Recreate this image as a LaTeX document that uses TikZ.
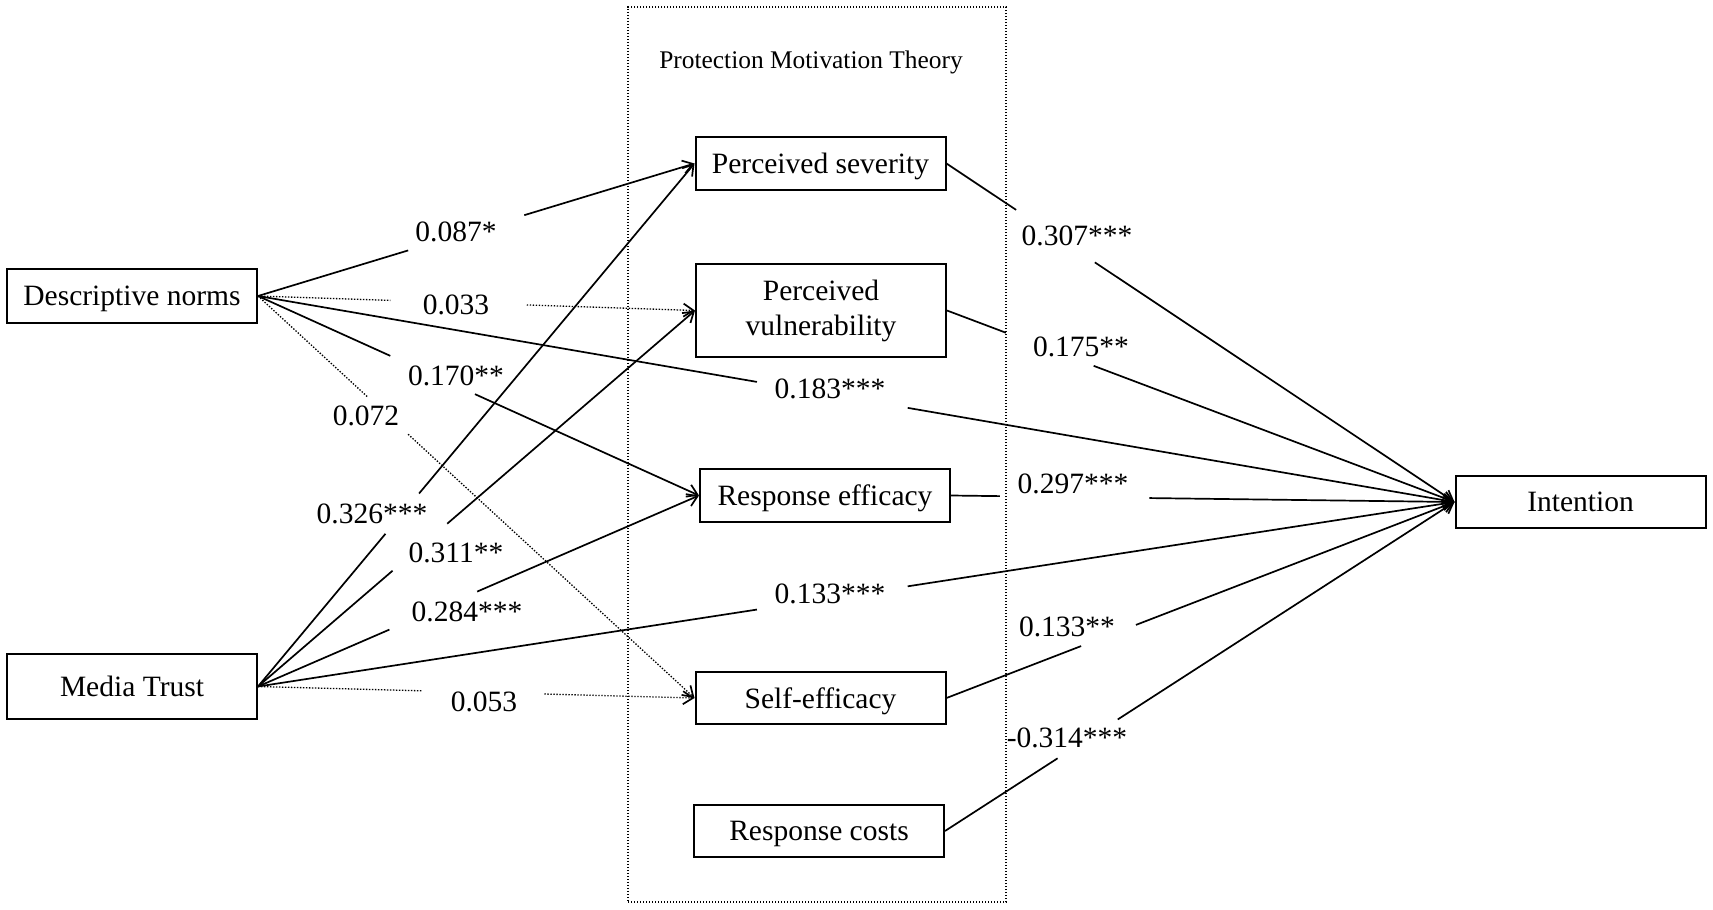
\documentclass[tikz,border=0pt]{standalone}
\usepackage{fontspec}
\setmainfont{Liberation Serif}
\usetikzlibrary{arrows.meta,calc}
\newcommand{\gapline}[5]{%
  \draw[#1] (#2) -- ($(#2)!#4!(#3)$);
  \draw[#1,tipend] ($(#2)!#5!(#3)$) -- (#3);}
\begin{document}
\begin{tikzpicture}[x=0.5pt,y=-0.5pt,
  box/.style={draw,line width=1pt,minimum width=125pt,minimum height=26.5pt,inner sep=0pt,
    font=\fontsize{14.75}{17.5}\selectfont,align=center},
  sline/.style={text depth=0pt},
  lab/.style={inner sep=0pt,font=\fontsize{14.75}{17.5}\selectfont},
  conn/.style={line width=0.85pt},
  dotln/.style={line width=0.65pt,dash pattern=on 0.7pt off 0.8pt},
  tipend/.style={-{Straight Barb[length=5pt,width=6.5pt,line width=0.85pt]}}
]
\useasboundingbox (0,0) rectangle (1713,910);

% boxes
\node[box,sline,minimum height=27pt] (DN) at (132,296) {Descriptive norms};
\node[box,sline,minimum height=32.5pt] (MT) at (132,686.5) {Media Trust};
\node[box,sline] (PS) at (820.5,163.5) {Perceived severity};
\node[box,minimum height=46.5pt] (PV) at (821,310.5) {Perceived\\vulnerability};
\node[box,sline] (RE) at (825,495.5) {Response efficacy};
\node[box,sline,minimum height=26pt] (SE) at (820.5,698) {Self-efficacy};
\node[box,sline,minimum height=26pt] (RC) at (819,831) {Response costs};
\node[box,sline,minimum height=26pt] (IN) at (1580.5,502) {Intention};

% connectors from Descriptive norms
\gapline{conn}{DN.east}{PS.west}{0.344}{0.610}
\gapline{dotln}{DN.east}{PV.west}{0.303}{0.615}
\gapline{conn}{DN.east}{RE.west}{0.300}{0.492}
\gapline{dotln}{DN.east}{SE.west}{0.251}{0.344}
\gapline{conn}{DN.east}{IN.west}{0.417}{0.543}
% connectors from Media Trust
\gapline{conn}{MT.east}{PS.west}{0.292}{0.369}
\gapline{conn}{MT.east}{PV.west}{0.308}{0.433}
\gapline{conn}{MT.east}{RE.west}{0.298}{0.497}
\gapline{dotln}{MT.east}{SE.west}{0.376}{0.656}
\gapline{conn}{MT.east}{IN.west}{0.417}{0.543}
% connectors to Intention
\gapline{conn}{PS.east}{IN.west}{0.137}{0.292}
\gapline{conn}{PV.east}{IN.west}{0.116}{0.289}
\gapline{conn}{RE.east}{IN.west}{0.097}{0.394}
\gapline{conn}{SE.east}{IN.west}{0.265}{0.373}
\gapline{conn}{RC.east}{IN.west}{0.221}{0.339}

% labels
\node[lab] (l1) at (456,232) {0.087*};
\node[lab] (l2) at (456,305) {0.033};
\node[lab] (l3) at (456,376) {0.170**};
\node[lab] (l4) at (366,416) {0.072};
\node[lab] (l5) at (830,389) {0.183***};
\node[lab] (l6) at (372,514) {0.326***};
\node[lab] (l7) at (456,553) {0.311**};
\node[lab] (l8) at (467,612) {0.284***};
\node[lab] (l9) at (830,594) {0.133***};
\node[lab] (l10) at (484,702) {0.053};
\node[lab] (l11) at (1077,236) {0.307***};
\node[lab] (l12) at (1081,347) {0.175**};
\node[lab] (l13) at (1073,484) {0.297***};
\node[lab] (l14) at (1067,627) {0.133**};
\node[lab] (l15) at (1067,738) {-0.314***};

% Protection Motivation Theory frame
\node[draw,dotln,minimum width=189pt,minimum height=447.5pt,inner sep=0pt] (PMT) at (817,454.5) {};
\node[font=\fontsize{12.7}{15}\selectfont,anchor=base,inner sep=0pt] (PMTt) at (811,68) {Protection Motivation Theory};
\end{tikzpicture}
\end{document}
